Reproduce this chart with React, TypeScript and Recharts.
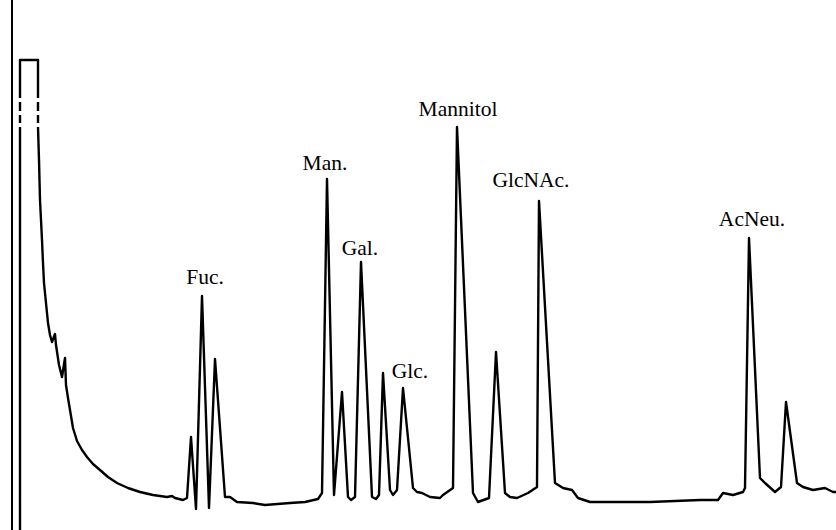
import { LineChart, Line, XAxis, YAxis, ReferenceLine, ReferenceDot } from 'recharts';

// retention time (min) and detector response (mV); null = gap in the pen trace
const time = [
  1.0, 1.0, null, 1.0, 1.0, null, 1.0, 1.0, null, 1.0, 1.0,
  1.9, 1.9, null, 1.9, 1.9, null, 1.9, 1.9, null, 1.9,
  1.95, 2.0, 2.1, 2.15, 2.2, 2.3, 2.4, 2.5, 2.6, 2.75, 2.8, 2.95, 3.1, 3.25, 3.3,
  3.4, 3.5, 3.65, 3.85, 4.1, 4.35, 4.65, 5.0, 5.4, 5.85, 6.4, 7.0, 7.65, 8.35,
  8.6, 8.75, 9.15, 9.35, 9.55, 9.8, 10.1, 10.45, 10.75, 11.25, 11.5,
  11.85, 12.65, 13.25, 14.5, 15.25, 15.9, 16.1, 16.35, 16.7, 17.1, 17.4, 17.55, 17.75, 18.05,
  18.6, 18.8, 18.95, 19.15, 19.5, 19.65, 19.85, 20.15, 20.65, 20.85, 21.1, 21.5, 22.0, 22.15,
  22.65, 22.85, 23.65, 23.9, 24.45, 24.8, 25.25, 25.5, 25.85, 26.4, 26.85, 26.95, 27.75, 28.15,
  28.6, 28.9, 29.5, 32.5, 35.0, 35.9, 36.15, 36.65, 37.15, 37.25, 37.45, 38.0, 38.25, 38.75,
  39.05, 39.3, 39.85, 40.15, 40.65, 41.25, 41.65, 41.8,
];

const signal = [
  -1, 40.3, null, 40.7, 41.5, null, 41.9, 42.8, null, 43.2, 47.0,
  47.0, 43.2, null, 42.8, 41.9, null, 41.5, 40.7, null, 40.3,
  37.0, 33.0, 29.0, 26.7, 24.7, 22.7, 20.7, 19.5, 18.8, 19.6, 18.5, 16.5, 15.3, 17.2, 14.5,
  13.2, 12.0, 10.2, 8.9, 8.0, 7.3, 6.6, 6.0, 5.3, 4.7, 4.2, 3.8, 3.5, 3.3,
  3.4, 3.2, 3.0, 3.2, 9.3, 2.1, 23.4, 2.2, 17.1, 3.3, 3.3,
  2.8, 2.7, 2.5, 2.7, 2.8, 3.1, 3.7, 35.1, 3.5, 13.8, 3.3, 3.0, 3.3, 26.8,
  3.3, 3.1, 3.5, 15.7, 4.0, 3.5, 4.0, 14.2, 4.2, 3.8, 3.7, 3.3, 3.2, 3.5,
  4.2, 40.3, 3.7, 2.8, 3.2, 17.8, 3.7, 3.3, 3.2, 3.7, 4.3, 32.9, 4.7, 4.2,
  4.0, 3.2, 2.8, 2.8, 3.0, 3.0, 3.7, 3.5, 3.8, 4.2, 29.2, 5.2, 4.7, 3.8,
  4.3, 12.8, 4.7, 4.3, 4.0, 4.2, 3.8, 3.8,
];

// identified peaks
const peakNames = ['Fuc.', 'Man.', 'Gal.', 'Glc.', 'Mannitol', 'GlcNAc.', 'AcNeu.'];
const peakTimes = [10.1, 16.35, 18.05, 20.15, 22.85, 26.95, 37.45];
const peakHeights = [23.4, 35.1, 26.8, 14.2, 40.3, 32.9, 29.2];
const labelShift = [3, -2, -1, 7, 1, -8, 3];
const labelRise = [12, 9, 7, 10, 11, 14, 12];

export default function App() {
  // keep previous time for gap rows so the x scale stays valid
  let last = 0;
  const data = time.map((t, i) => {
    if (t !== null) last = t;
    return { t: last, s: signal[i] };
  });

  return (
    <div style={{ position: 'absolute', left: 0, top: 0, background: '#fff' }}>
      <LineChart width={836} height={530} data={data} margin={{ top: 0, right: 0, bottom: 0, left: 0 }}>
        <XAxis type="number" dataKey="t" domain={[0, 41.8]} hide />
        <YAxis type="number" domain={[0, 53]} allowDataOverflow hide />
        <ReferenceLine x={0.6} stroke="#000" strokeWidth={2} />
        <Line
          type="linear"
          dataKey="s"
          stroke="#000"
          strokeWidth={2.4}
          strokeLinejoin="round"
          dot={false}
          connectNulls={false}
          isAnimationActive={false}
        />
        {peakNames.map((name, i) => (
          <ReferenceDot
            key={name}
            x={peakTimes[i]}
            y={peakHeights[i]}
            r={1}
            fill="none"
            stroke="none"
            ifOverflow="visible"
            label={{
              content: (p: any) => {
                const vb = p.viewBox || {};
                const cx = (vb.x ?? 0) + (vb.width ?? 0) / 2;
                const cy = (vb.y ?? 0) + (vb.height ?? 0) / 2;
                return (
                  <text
                    x={cx + labelShift[i]}
                    y={cy - labelRise[i]}
                    textAnchor="middle"
                    fontFamily="'Liberation Serif', 'Times New Roman', serif"
                    fontSize={21.5}
                    fill="#000"
                  >
                    {name}
                  </text>
                );
              },
            }}
          />
        ))}
      </LineChart>
    </div>
  );
}
